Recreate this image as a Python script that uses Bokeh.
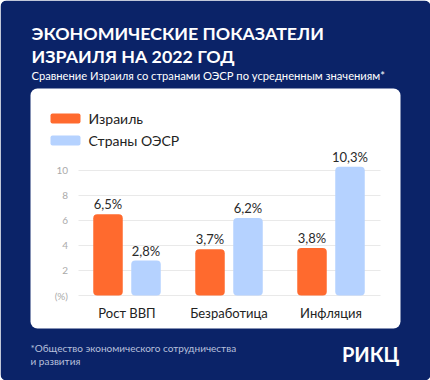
import numpy as np
from bokeh.plotting import figure
from bokeh.models import Range1d, ColumnDataSource
from bokeh.core.properties import value
from bokeh.embed import file_html
from bokeh.resources import INLINE

# ---- data ----
categories = ["Рост ВВП", "Безработица", "Инфляция"]
series_names = ["Израиль", "Страны ОЭСР"]
israel = [6.5, 3.7, 3.8]
oecd = [2.8, 6.2, 10.3]
tick_values = [0, 2, 4, 6, 8, 10]
tick_labels = ["(%)", "2", "4", "6", "8", "10"]

title_lines = ["ЭКОНОМИЧЕСКИЕ ПОКАЗАТЕЛИ", "ИЗРАИЛЯ НА 2022 ГОД"]
subtitle = "Сравнение Израиля со странами ОЭСР по усредненным значениям*"
footnote = ["*Общество экономического сотрудничества", "и развития"]
logo = "РИКЦ"

# ---- style ----
FONT = "Lato"
CARD = "#0b2368"
ORANGE = "#ff6a2e"
LIGHTBLUE = "#b5d2ff"
W, H = 430, 380

p = figure(width=W, height=H, output_backend="svg", toolbar_location=None,
           x_range=Range1d(0, W), y_range=Range1d(H, 0),
           min_border=0, outline_line_color=None,
           background_fill_color="white", border_fill_color="white")
p.axis.visible = False
p.grid.visible = False

# scale for bars: value -> pixel
base_px, px_per_unit = 295.0, 12.5
p.extra_y_ranges = {"by": Range1d(start=(base_px - H) / px_per_unit, end=base_px / px_per_unit)}
c0, spacing = 126.5, 102.0
p.extra_x_ranges = {"bx": Range1d(start=-c0 / spacing, end=(W - c0) / spacing)}

# card and panel
p.quad(left=0, right=W, top=0, bottom=H, fill_color=CARD, line_color=None, border_radius=6)
p.quad(left=30, right=400, top=88, bottom=328, fill_color="white", line_color=None, border_radius=7)

# titles
for i, line in enumerate(title_lines):
    p.text(x=[31], y=[32.5 + 23 * i], text=[line], text_font=value(FONT), text_font_style="bold",
           text_font_size="17.8px", text_color="white", text_baseline="middle")
p.text(x=[31], y=[75], text=[subtitle], text_font=value(FONT), text_font_size="11.2px",
       text_color="white", text_baseline="middle")

# legend
for i, (name, col) in enumerate(zip(series_names, [ORANGE, LIGHTBLUE])):
    yc = 118 + 22 * i
    p.quad(left=50, right=80, top=yc - 5, bottom=yc + 5, fill_color=col, line_color=None, border_radius=2)
    p.text(x=[88], y=[yc], text=[name], text_font=value(FONT), text_font_size="14px",
           text_color="#222222", text_baseline="middle")

# grid + tick labels
p.segment(x0=[78] * len(tick_values), x1=[380] * len(tick_values), y0=tick_values, y1=tick_values,
          y_range_name="by", line_color="#e9e9e9", line_width=1)
p.text(x=[67.5] * len(tick_values), y=tick_values, text=tick_labels, y_range_name="by",
       text_font=value(FONT), text_font_size="10px", text_color="#aaaaaa",
       text_align="right", text_baseline="middle")

# bars
idx = np.arange(len(categories))
off, bw = 19 / spacing, 29.5 / spacing
for vals, col, sgn in [(israel, ORANGE, -1), (oecd, LIGHTBLUE, 1)]:
    src = ColumnDataSource(dict(x=idx + sgn * off, top=vals,
                                lab=[f"{v:.1f}".replace(".", ",") + "%" for v in vals]))
    p.vbar(x="x", top="top", bottom=0, width=bw, source=src, x_range_name="bx", y_range_name="by",
           fill_color=col, line_color=None, border_radius=4)
    p.text(x="x", y="top", text="lab", source=src, x_range_name="bx", y_range_name="by",
           text_font=value(FONT), text_font_size="13px", text_color="#2a2a2a",
           text_align="center", text_baseline="middle", y_offset=-10)

# category labels
p.text(x=idx, y=[0] * len(categories), text=categories, x_range_name="bx", y_range_name="by",
       text_font=value(FONT), text_font_size="13px", text_color="#222222",
       text_align="center", text_baseline="middle", y_offset=17)

# footer
for i, line in enumerate(footnote):
    p.text(x=[30], y=[347.5 + 12.5 * i], text=[line], text_font=value(FONT), text_font_size="10px",
           text_color="#b8c0dc", text_baseline="middle")
p.text(x=[399], y=[353], text=[logo], text_font=value(FONT), text_font_style="bold",
       text_font_size="20px", text_color="white", text_align="right", text_baseline="middle")

open("out.html", "w").write(file_html(p, INLINE))
